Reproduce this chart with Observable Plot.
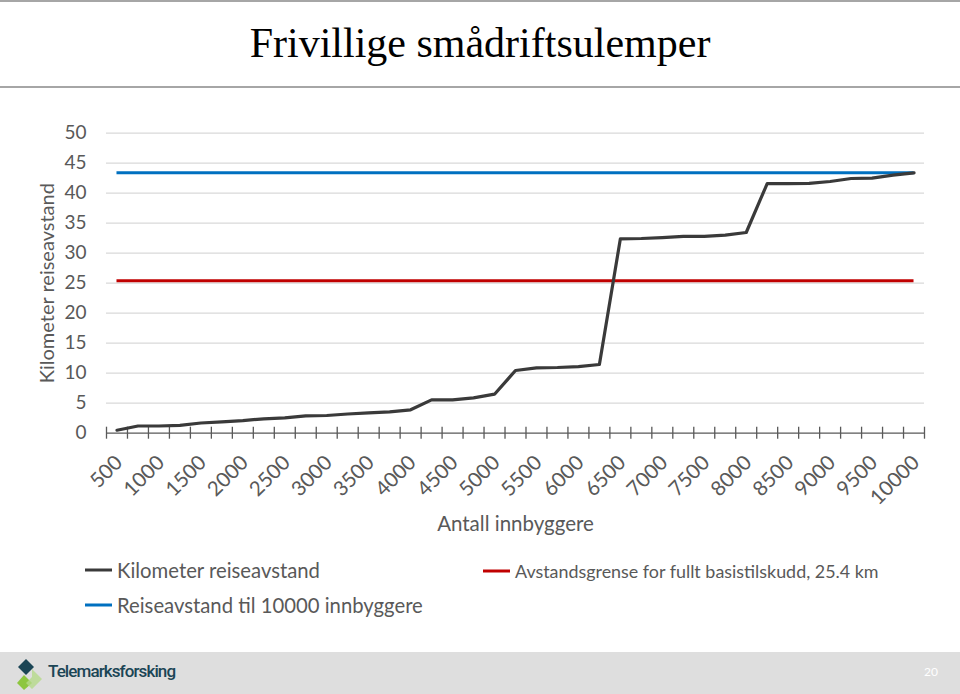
<!DOCTYPE html>
<html>
<head>
<meta charset="utf-8">
<script src="https://cdn.jsdelivr.net/npm/d3@7"></script>
<script src="https://cdn.jsdelivr.net/npm/@observablehq/plot@0.6"></script>
<style>
  html, body { margin: 0; padding: 0; background: #fff; }
  #page { position: relative; width: 960px; height: 694px; overflow: hidden; font-family: Lato, "Open Sans", sans-serif; }
  #topline { position: absolute; left: 0; top: 0; width: 960px; height: 2px; background: #a6a6a6; }
  #title { position: absolute; left: 0; top: 18px; width: 960px; text-align: center; font-family: "Liberation Serif", serif; font-size: 42px; color: #000; line-height: 50px; }
  #headline { position: absolute; left: 0; top: 86px; width: 960px; height: 2px; background: #a6a6a6; }
  #chart { position: absolute; left: 0; top: 100px; }
  .leg { position: absolute; display: flex; align-items: center; color: #595959; white-space: nowrap; }
  .leg svg { margin-right: 5px; }
  #footer { position: absolute; left: 0; top: 652px; width: 960px; height: 42px; background: #dedede; }
  #logotext { position: absolute; left: 48px; top: 661px; font-family: Roboto, sans-serif; font-size: 17px; color: #1b4555; letter-spacing: -0.9px; font-weight: 500; }
  #pagenum { position: absolute; left: 924px; top: 664px; font-size: 12px; color: #fff; }
</style>
</head>
<body>
<div id="page">
  <div id="topline"></div>
  <div id="title">Frivillige smådriftsulemper</div>
  <div id="headline"></div>
  <div id="chart"></div>
  <div class="leg" style="left:85px; top:558px; font-size:20.3px;">
    <svg width="27" height="6"><line x1="0" y1="3" x2="27" y2="3" stroke="#3a3a3a" stroke-width="3"/></svg>Kilometer reiseavstand</div>
  <div class="leg" style="left:85px; top:593px; font-size:20.3px;">
    <svg width="27" height="6"><line x1="0" y1="3" x2="27" y2="3" stroke="#0070c0" stroke-width="3"/></svg>Reiseavstand til 10000 innbyggere</div>
  <div class="leg" style="left:483px; top:560px; font-size:17.9px;">
    <svg width="27" height="6"><line x1="0" y1="3" x2="27" y2="3" stroke="#c00000" stroke-width="3"/></svg>Avstandsgrense for fullt basistilskudd, 25.4 km</div>
  <div id="footer"></div>
  <svg style="position:absolute; left:16px; top:657px;" width="30" height="34" viewBox="0 0 30 34">
    <polygon points="10,2 18,10 10,18 2,10" fill="#1b4555"/>
    <polygon points="8,18 16,26 8,33 1,26" fill="#8dc63f"/>
    <polygon points="16,12 26,22 16,32 10,26 16,20" fill="#b5d98a" opacity="0.8"/>
  </svg>
  <div id="logotext">Telemarksforsking</div>
  <div id="pagenum">20</div>
</div>
<script>
// Categories: number of inhabitants
const categories = [500, 750, 1000, 1250, 1500, 1750, 2000, 2250, 2500, 2750, 3000, 3250, 3500, 3750, 4000, 4250, 4500, 4750, 5000, 5250, 5500, 5750, 6000, 6250, 6500, 6750, 7000, 7250, 7500, 7750, 8000, 8250, 8500, 8750, 9000, 9250, 9500, 9750, 10000];
// Kilometer reiseavstand
const reiseavstand = [0.5, 1.2, 1.2, 1.3, 1.7, 1.9, 2.1, 2.4, 2.55, 2.9, 2.95, 3.2, 3.4, 3.55, 3.9, 5.55, 5.55, 5.9, 6.5, 10.45, 10.9, 10.95, 11.1, 11.45, 32.4, 32.45, 32.6, 32.8, 32.8, 33.0, 33.45, 41.6, 41.6, 41.65, 41.95, 42.45, 42.5, 43.0, 43.4];
// Reference levels
const reiseavstand10000 = 43.4;
const avstandsgrense = 25.4;
// Tick labels on x axis
const xTickLabels = [500, 1000, 1500, 2000, 2500, 3000, 3500, 4000, 4500, 5000, 5500, 6000, 6500, 7000, 7500, 8000, 8500, 9000, 9500, 10000];
const yTicks = [0, 5, 10, 15, 20, 25, 30, 35, 40, 45, 50];

const step = 250;
const data = categories.map((c, i) => ({cat: c, val: reiseavstand[i]}));
const boundaries = categories.map(c => c - step / 2).concat([categories[categories.length - 1] + step / 2]);

const chart = Plot.plot({
  width: 960,
  height: 450,
  marginLeft: 106,
  marginRight: 36,
  marginTop: 32.7,
  marginBottom: 117.3,
  style: {fontFamily: "Lato, 'Open Sans', sans-serif", background: "transparent"},
  x: {type: "linear", domain: [categories[0] - step / 2, categories[categories.length - 1] + step / 2], axis: null},
  y: {domain: [0, 50], axis: null},
  marks: [
    Plot.gridY(yTicks.slice(1), {stroke: "#d9d9d9", strokeOpacity: 1, strokeWidth: 1.3}),
    Plot.axisY(yTicks, {tickSize: 0, tickPadding: 20, fontSize: 19, fill: "#595959", label: null, tickFormat: d => String(d)}),
    Plot.text(["Kilometer reiseavstand"], {frameAnchor: "left", textAnchor: "middle", lineAnchor: "middle", rotate: -90, dx: -59, fontSize: 20, fill: "#595959"}),
    Plot.ruleY([0], {stroke: "#595959", strokeWidth: 1.3}),
    Plot.ruleX(boundaries, {y1: -1, y2: 1, stroke: "#595959", strokeWidth: 1.3}),
    Plot.text(xTickLabels, {x: d => d, frameAnchor: "bottom", rotate: -45, textAnchor: "end", lineAnchor: "middle", dx: 2, dy: 26, fontSize: 20.5, fill: "#595959", text: d => String(d)}),
    Plot.text(["Antall innbyggere"], {frameAnchor: "bottom", textAnchor: "middle", lineAnchor: "middle", dy: 91, fontSize: 20.5, fill: "#595959"}),
    Plot.ruleY([avstandsgrense], {x1: categories[0], x2: categories[categories.length - 1], stroke: "#c00000", strokeWidth: 3}),
    Plot.ruleY([reiseavstand10000], {x1: categories[0], x2: categories[categories.length - 1], stroke: "#0070c0", strokeWidth: 3}),
    Plot.line(data, {x: "cat", y: "val", stroke: "#3a3a3a", strokeWidth: 3.2, strokeLinejoin: "round"})
  ]
});
document.getElementById("chart").appendChild(chart);
</script>
</body>
</html>
